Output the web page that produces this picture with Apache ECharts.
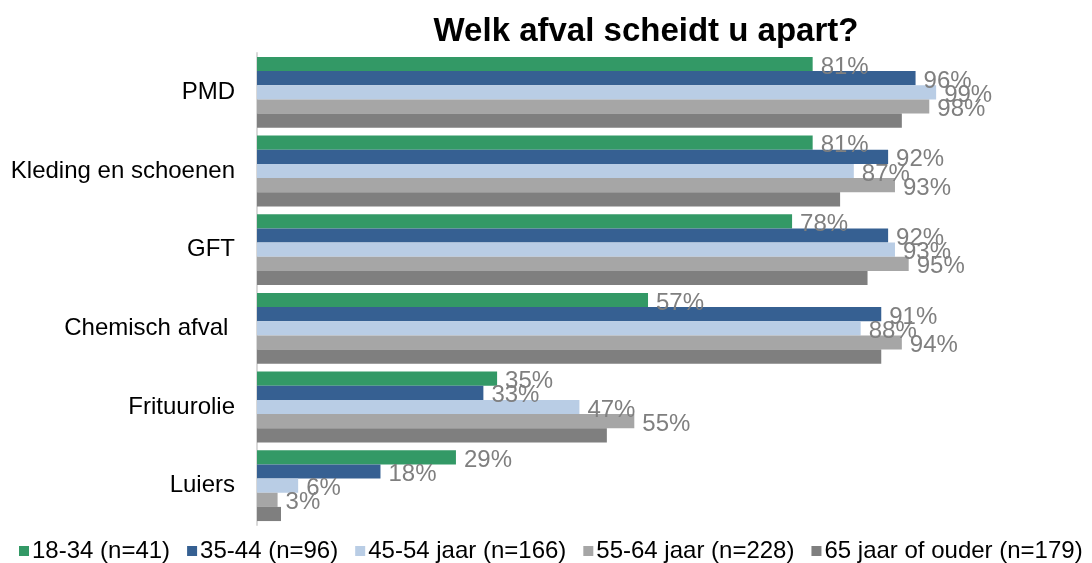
<!DOCTYPE html>
<html>
<head>
<meta charset="utf-8">
<title>Welk afval scheidt u apart?</title>
<script src="https://cdn.jsdelivr.net/npm/echarts@6/dist/echarts.min.js"></script>
<style>
    html,body{margin:0;padding:0;background:#fff;}
    #chart{width:1092px;height:563px;}
</style>
</head>
<body>
<div id="chart"></div>
<script>
'use strict';

/**
 * data
 */
var categories=['PMD','Kleding en schoenen','GFT','Chemisch afval ','Frituurolie','Luiers'];
var seriesNames=['18-34 (n=41)','35-44 (n=96)','45-54 jaar (n=166)','55-64 jaar (n=228)','65 jaar of ouder (n=179)'];
var age1834=[81,81,78,57,35,29];
var age3544=[96,92,92,91,33,18];
var age4554=[99,87,93,88,47,6];
var age5564=[98,93,95,94,55,3];
var age65=[94,85,89,91,51,3.5];
var colors=['#339966','#366092','#b9cde5','#a6a6a6','#7f7f7f'];
var showLabel=[true,true,true,true,false];

var FONT="'Liberation Sans', Arial, sans-serif";

function makeSeries(){
    var values=[age1834,age3544,age4554,age5564,age65];
    return values.map(function(v,i){
        return {
            name:seriesNames[i],
            type:'bar',
            data:v,
            barGap:'0%',
            barCategoryGap:'10%',
            itemStyle:{color:colors[i]},
            label:{
                show:showLabel[i],
                position:'right',
                distance:8,
                offset:[0,3],
                formatter:'{c}%',
                color:'#7f7f7f',
                fontSize:24,
                fontFamily:FONT
            }
        };
    });
}

var chart=echarts.init(document.getElementById('chart'));
chart.setOption({
    animation:false,
    color:colors,
    title:{
        text:'Welk afval scheidt u apart?',
        left:641,
        textAlign:'center',
        top:10,
        textStyle:{fontSize:33,fontWeight:'bold',color:'#000',fontFamily:FONT}
    },
    legend:{
        data:seriesNames,
        left:19,
        top:539,
        width:1090,
        padding:0,
        icon:'rect',
        itemWidth:10,
        itemHeight:10,
        itemGap:17,
        textStyle:{fontSize:24,color:'#000',fontFamily:FONT,padding:[0,0,0,-2]}
    },
    grid:{left:257,right:149,top:53,bottom:38},
    xAxis:{
        type:'value',
        min:0,
        max:100,
        show:false
    },
    yAxis:{
        type:'category',
        data:categories,
        inverse:true,
        axisLine:{show:true,lineStyle:{color:'#d9d9d9',width:2}},
        axisTick:{show:false},
        axisLabel:{fontSize:24,color:'#000',fontFamily:FONT,margin:22}
    },
    series:makeSeries()
});
</script>
</body>
</html>
